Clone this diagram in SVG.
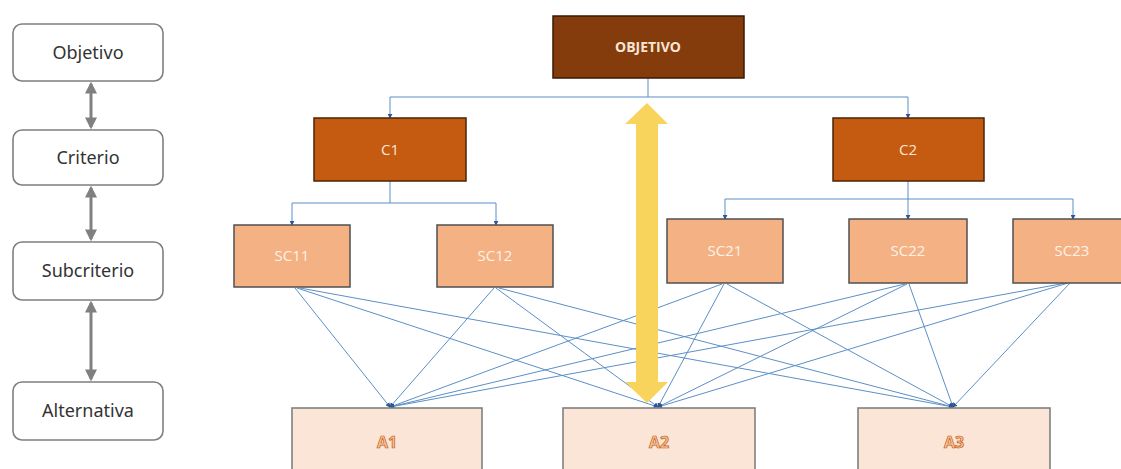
<svg xmlns="http://www.w3.org/2000/svg" width="1121" height="469" viewBox="0 0 1121 469">
  <defs>
    <style>
      .lvl { fill: #ffffff; stroke: #7f7f7f; stroke-width: 1.6; }
      .lvl-t { font-family: "Noto Sans", "Liberation Sans", sans-serif; font-size: 18px; fill: #333333; text-anchor: middle; }
      .goal { fill: #843c0c; stroke: #3a1a06; stroke-width: 1.5; }
      .crit { fill: #c55a11; stroke: #4a2508; stroke-width: 1.5; }
      .sub { fill: #f4b183; stroke: #505050; stroke-width: 1.5; }
      .alt { fill: #fbe5d6; stroke: #808080; stroke-width: 1.6; }
      .nt { font-family: "Open Sans", "Liberation Sans", sans-serif; font-size: 15px; text-anchor: middle; }
      .nt-goal { fill: #fbe5d6; font-weight: bold; font-size: 14px; }
      .nt-crit { fill: #fbe5d6; }
      .nt-sub { fill: #fdf1e8; }
      .nt-alt { fill: #f7c29a; stroke: #c55a11; stroke-width: 0.7; font-weight: bold; font-size: 16px; }
      .link { fill: none; stroke: #5b8fc7; stroke-width: 1; }
      .gray { fill: none; stroke: #808080; stroke-width: 3; }
    </style>
    <marker id="tip" viewBox="0 0 6 6" refX="5" refY="3" markerWidth="5" markerHeight="5" markerUnits="userSpaceOnUse" orient="auto">
      <path d="M0,0 L6,3 L0,6 z" fill="#2f5597"/>
    </marker>
    <marker id="gtip" viewBox="0 0 10 10" refX="8" refY="5" markerWidth="4" markerHeight="4" orient="auto-start-reverse">
      <path d="M0,0 L10,5 L0,10 z" fill="#808080"/>
    </marker>
  </defs>

  <rect width="1121" height="469" fill="#ffffff"/>

  <!-- level legend on the left -->
  <g id="legend-objetivo">
    <rect class="lvl" x="13" y="24" width="150" height="57" rx="9"/>
    <text class="lvl-t" x="88" y="59">Objetivo</text>
  </g>
  <g id="legend-criterio">
    <rect class="lvl" x="13" y="130" width="150" height="55" rx="9"/>
    <text class="lvl-t" x="88" y="164">Criterio</text>
  </g>
  <g id="legend-subcriterio">
    <rect class="lvl" x="13" y="242" width="150" height="58" rx="9"/>
    <text class="lvl-t" x="88" y="277">Subcriterio</text>
  </g>
  <g id="legend-alternativa">
    <rect class="lvl" x="13" y="382" width="150" height="58" rx="9"/>
    <text class="lvl-t" x="88" y="417">Alternativa</text>
  </g>
  <g id="legend-arrows">
    <line class="gray" x1="91" y1="84" x2="91" y2="127" marker-start="url(#gtip)" marker-end="url(#gtip)"/>
    <line class="gray" x1="91" y1="188" x2="91" y2="239" marker-start="url(#gtip)" marker-end="url(#gtip)"/>
    <line class="gray" x1="91" y1="303" x2="91" y2="379" marker-start="url(#gtip)" marker-end="url(#gtip)"/>
  </g>

  <!-- connectors -->
  <g id="connectors">
    <path class="link" d="M648,78 V97"/>
    <path class="link" d="M390,97 H908"/>
    <path class="link" d="M390,97 V118" marker-end="url(#tip)"/>
    <path class="link" d="M908,97 V118" marker-end="url(#tip)"/>

    <path class="link" d="M390,181 V203 M292,203 H496"/>
    <path class="link" d="M292,203 V225" marker-end="url(#tip)"/>
    <path class="link" d="M496,203 V225" marker-end="url(#tip)"/>

    <path class="link" d="M908,181 V199 M725,199 H1073"/>
    <path class="link" d="M725,199 V219" marker-end="url(#tip)"/>
    <path class="link" d="M908,199 V219" marker-end="url(#tip)"/>
    <path class="link" d="M1073,199 V219" marker-end="url(#tip)"/>

    <!-- every subcriterion to every alternative -->
    <path class="link" d="M295,288 L390,407" marker-end="url(#tip)"/>
    <path class="link" d="M297,288 L658,407" marker-end="url(#tip)"/>
    <path class="link" d="M300,288 L953,407" marker-end="url(#tip)"/>
    <path class="link" d="M494,288 L390,407" marker-end="url(#tip)"/>
    <path class="link" d="M496,288 L658,407" marker-end="url(#tip)"/>
    <path class="link" d="M499,288 L953,407" marker-end="url(#tip)"/>
    <path class="link" d="M722,284 L390,407" marker-end="url(#tip)"/>
    <path class="link" d="M724,284 L658,407" marker-end="url(#tip)"/>
    <path class="link" d="M727,284 L953,407" marker-end="url(#tip)"/>
    <path class="link" d="M905,284 L390,407" marker-end="url(#tip)"/>
    <path class="link" d="M907,284 L658,407" marker-end="url(#tip)"/>
    <path class="link" d="M909,284 L953,407" marker-end="url(#tip)"/>
    <path class="link" d="M1066,283 L390,407" marker-end="url(#tip)"/>
    <path class="link" d="M1068,283 L658,407" marker-end="url(#tip)"/>
    <path class="link" d="M1070,283 L953,407" marker-end="url(#tip)"/>
  </g>

  <!-- nodes -->
  <g id="objetivo">
    <rect class="goal" x="553" y="16" width="191" height="62"/>
    <text class="nt nt-goal" x="648" y="52">OBJETIVO</text>
  </g>
  <g id="c1">
    <rect class="crit" x="314" y="118" width="152" height="63"/>
    <text class="nt nt-crit" x="390" y="155">C1</text>
  </g>
  <g id="c2">
    <rect class="crit" x="833" y="118" width="151" height="63"/>
    <text class="nt nt-crit" x="908" y="155">C2</text>
  </g>
  <g id="sc11">
    <rect class="sub" x="234" y="225" width="116" height="62"/>
    <text class="nt nt-sub" x="292" y="261">SC11</text>
  </g>
  <g id="sc12">
    <rect class="sub" x="437" y="225" width="116" height="62"/>
    <text class="nt nt-sub" x="495" y="261">SC12</text>
  </g>
  <g id="sc21">
    <rect class="sub" x="667" y="219" width="116" height="64"/>
    <text class="nt nt-sub" x="725" y="256">SC21</text>
  </g>
  <g id="sc22">
    <rect class="sub" x="849" y="219" width="118" height="64"/>
    <text class="nt nt-sub" x="908" y="256">SC22</text>
  </g>
  <g id="sc23">
    <rect class="sub" x="1013" y="219" width="118" height="64"/>
    <text class="nt nt-sub" x="1072" y="256">SC23</text>
  </g>
  <g id="a1">
    <rect class="alt" x="292" y="408" width="190" height="70"/>
    <text class="nt nt-alt" x="387" y="448">A1</text>
  </g>
  <g id="a2">
    <rect class="alt" x="563" y="408" width="192" height="70"/>
    <text class="nt nt-alt" x="659" y="448">A2</text>
  </g>
  <g id="a3">
    <rect class="alt" x="858" y="408" width="192" height="70"/>
    <text class="nt nt-alt" x="954" y="448">A3</text>
  </g>

  <!-- two-way yellow arrow spanning the hierarchy -->
  <g id="span-arrow">
    <path d="M647,103 L668,124 L658,124 L658,382 L668,382 L647,403 L625,382 L636,382 L636,124 L625,124 Z" fill="#f9d45c"/>
  </g>
</svg>
